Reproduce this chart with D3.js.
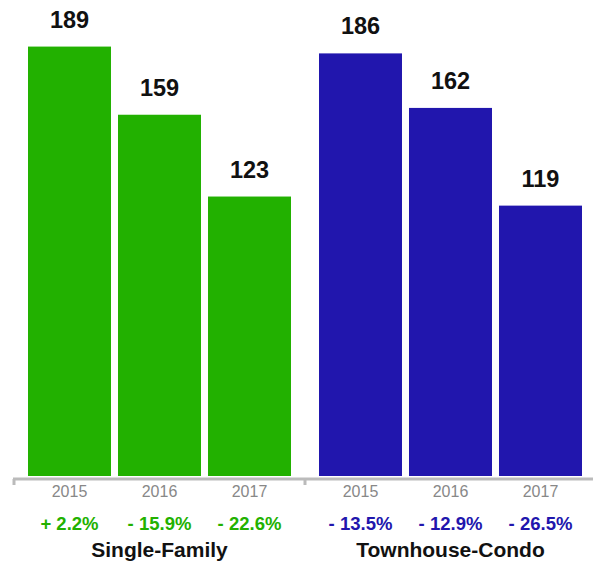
<!DOCTYPE html>
<html><head><meta charset="utf-8">
<script src="https://cdn.jsdelivr.net/npm/d3@7"></script>
<style>html,body{margin:0;padding:0;background:#fff;}svg{display:block;font-family:"Liberation Sans",Arial,Helvetica,sans-serif;}</style>
</head><body>
<svg id="c" width="594" height="565"></svg>
<script>
const groups = ["Single-Family", "Townhouse-Condo"];
const years = ["2015", "2016", "2017"];
const singleFamily = [189, 159, 123];
const townhouseCondo = [186, 162, 119];
const changeSingle = ["+ 2.2%", "- 15.9%", "- 22.6%"];
const changeTownhouse = ["- 13.5%", "- 12.9%", "- 26.5%"];
const groupColors = ["#22b100", "#2116ad"];

const seriesValues = [singleFamily, townhouseCondo];
const seriesChanges = [changeSingle, changeTownhouse];

const svg = d3.select("#c");
const baseline = 476;
const y = d3.scaleLinear().domain([0, 209.5]).range([baseline, 0]);
const x0 = d3.scaleBand().domain(groups).range([14, 596]).padding(0);
const x1 = d3.scaleBand().domain(years).range([0, x0.bandwidth()]).paddingInner(0.078).paddingOuter(0.1556);

groups.forEach((g, gi) => {
  const gx = x0(g);
  const grp = svg.append("g").attr("transform", `translate(${gx},0)`);
  years.forEach((yr, i) => {
    const v = seriesValues[gi][i];
    const bx = x1(yr), bw = x1.bandwidth(), cx = bx + bw / 2;
    grp.append("rect").attr("x", bx).attr("y", y(v)).attr("width", bw)
      .attr("height", baseline - y(v)).attr("fill", groupColors[gi]);
    grp.append("text").attr("x", cx).attr("y", y(v) - 19).attr("text-anchor", "middle")
      .attr("font-size", 23.5).attr("font-weight", "bold").attr("fill", "#111").text(v);
    grp.append("text").attr("x", cx).attr("y", 497).attr("text-anchor", "middle")
      .attr("font-size", 16).attr("fill", "#888").text(yr);
    grp.append("text").attr("x", cx).attr("y", 530).attr("text-anchor", "middle")
      .attr("font-size", 18.5).attr("font-weight", "bold").attr("fill", groupColors[gi]).text(seriesChanges[gi][i]);
  });
  grp.append("text").attr("x", x0.bandwidth() / 2).attr("y", 557).attr("text-anchor", "middle")
    .attr("font-size", 21).attr("font-weight", "bold").attr("fill", "#111").text(g);
});

// axis line with group ticks
const axisG = svg.append("g").attr("transform", `translate(0,${baseline + 3})`);
const axis = d3.axisBottom(x0).tickValues([]).tickSize(0).tickSizeOuter(0);
axisG.call(axis);
axisG.select(".domain").attr("stroke", "#bbb").attr("stroke-width", 3).attr("d", "M13,0H593");
groups.forEach(g => {
  axisG.append("line").attr("x1", x0(g)).attr("x2", x0(g)).attr("y1", 0).attr("y2", 6)
    .attr("stroke", "#bbb").attr("stroke-width", 3);
});
</script>
</body></html>
